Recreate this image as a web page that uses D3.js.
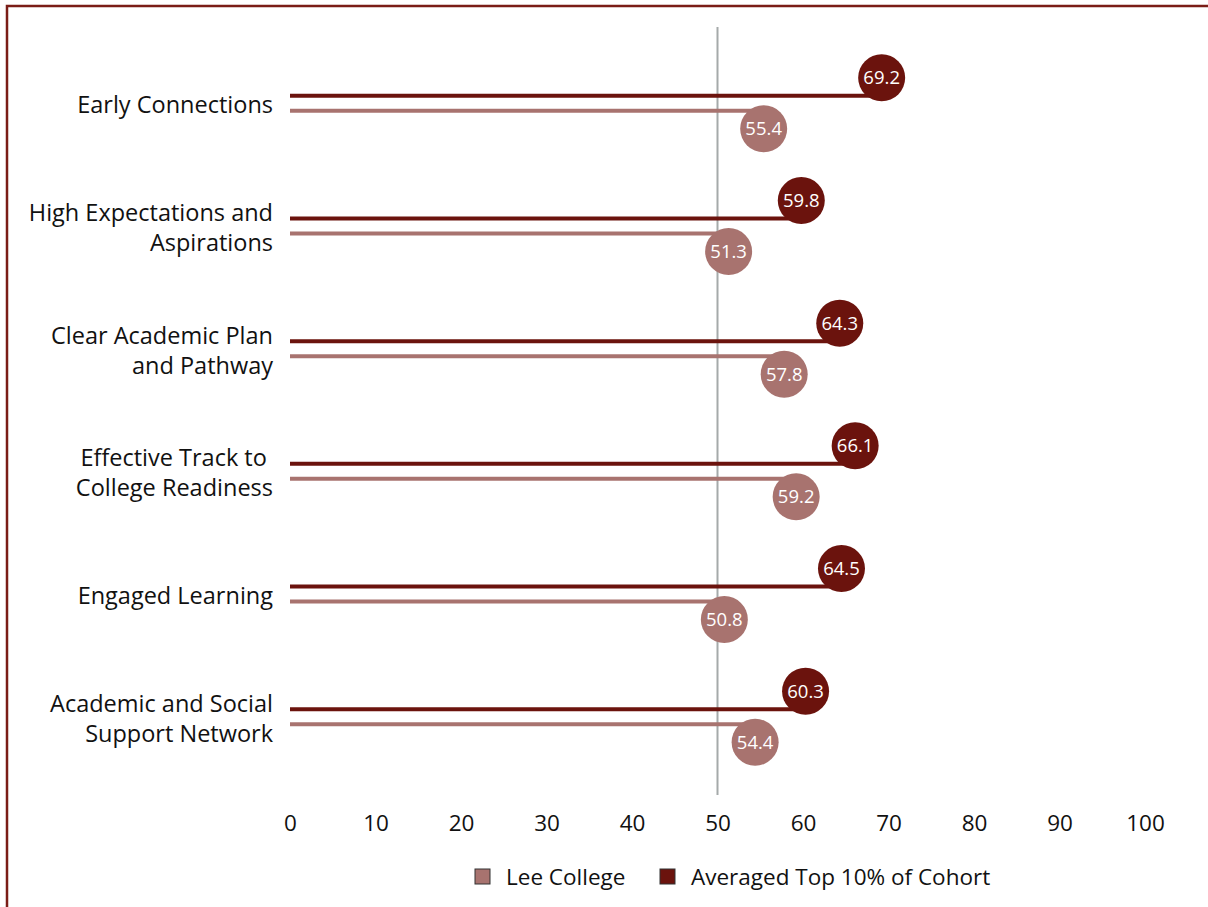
<!DOCTYPE html>
<html>
<head>
<meta charset="utf-8">
<script src="https://d3js.org/d3.v7.min.js"></script>
<style>
  body { margin: 0; background: #fff; }
  text { font-family: "Open Sans", "Noto Sans", sans-serif; }
</style>
</head>
<body>
<script>
// data
var categories = [
    ["Early Connections"],
    ["High Expectations and", "Aspirations"],
    ["Clear Academic Plan", "and Pathway"],
    ["Effective Track to ", "College Readiness"],
    ["Engaged Learning"],
    ["Academic and Social", "Support Network"]
];
var leeCollege = [55.4, 51.3, 57.8, 59.2, 50.8, 54.4];
var topTen = [69.2, 59.8, 64.3, 66.1, 64.5, 60.3];
var xTicks = [0, 10, 20, 30, 40, 50, 60, 70, 80, 90, 100];
var seriesNames = ["Lee College", "Averaged Top 10% of Cohort"];

var lightCol = "#a8736f", darkCol = "#6b130d";

var W = 1208, H = 907;
var svg = d3.select("body").append("svg").attr("width", W).attr("height", H);

// frame
svg.append("path")
    .attr("d", "M7,907 V6 H1208")
    .attr("fill", "none").attr("stroke", "#7a1d17").attr("stroke-width", 2.5);

var x = d3.scaleLinear().domain([0, 100]).range([290, 1145]);
var y = d3.scaleBand().domain(d3.range(categories.length)).range([42, 778]);

// reference line at 50
svg.append("line")
    .attr("x1", x(50)).attr("x2", x(50))
    .attr("y1", 27).attr("y2", 795)
    .attr("stroke", "#a5aaaa").attr("stroke-width", 2);

var rows = svg.selectAll(".row").data(categories).enter().append("g")
    .attr("class", "row")
    .attr("transform", function(d, i) { return "translate(0," + (y(i) + y.bandwidth() / 2) + ")"; });

// category labels
rows.each(function(d) {
    var g = d3.select(this);
    var t = g.append("text").attr("text-anchor", "end").attr("x", 273)
        .attr("font-size", 23.5).attr("fill", "#111");
    d.forEach(function(line, k) {
        t.append("tspan").attr("x", 273)
            .attr("y", (k - (d.length - 1) / 2) * 30 + 10)
            .text(line);
    });
});

// dark lines and circles
rows.append("line")
    .attr("x1", x(0)).attr("x2", function(d, i) { return x(topTen[i]); })
    .attr("y1", -7.5).attr("y2", -7.5)
    .attr("stroke", darkCol).attr("stroke-width", 4);
rows.append("line")
    .attr("x1", x(0)).attr("x2", function(d, i) { return x(leeCollege[i]); })
    .attr("y1", 7.5).attr("y2", 7.5)
    .attr("stroke", lightCol).attr("stroke-width", 4);

rows.append("circle")
    .attr("cx", function(d, i) { return x(topTen[i]); })
    .attr("cy", -25.5).attr("r", 23.5).attr("fill", darkCol);
rows.append("text")
    .attr("x", function(d, i) { return x(topTen[i]); })
    .attr("y", -25.5).attr("dy", "0.35em")
    .attr("text-anchor", "middle").attr("fill", "#fff").attr("font-size", 18.5)
    .text(function(d, i) { return topTen[i].toFixed(1); });

rows.append("circle")
    .attr("cx", function(d, i) { return x(leeCollege[i]); })
    .attr("cy", 25.5).attr("r", 23.5).attr("fill", lightCol);
rows.append("text")
    .attr("x", function(d, i) { return x(leeCollege[i]); })
    .attr("y", 25.5).attr("dy", "0.35em")
    .attr("text-anchor", "middle").attr("fill", "#fff").attr("font-size", 18.5)
    .text(function(d, i) { return leeCollege[i].toFixed(1); });

// x axis
var ax = svg.append("g").attr("transform", "translate(0,815)")
    .call(d3.axisBottom(x).tickValues(xTicks).tickSize(0).tickPadding(0));
ax.select(".domain").remove();
ax.selectAll("text").attr("font-size", 22.5).attr("fill", "#111")
    .attr("font-family", "\"Open Sans\", \"Noto Sans\", sans-serif");

// legend
var legend = svg.append("g").attr("transform", "translate(475,877)");
var lg = legend.selectAll("g").data(seriesNames).enter().append("g")
    .attr("transform", function(d, i) { return "translate(" + [0, 185][i] + ",0)"; });
lg.append("rect").attr("x", 0).attr("y", -8).attr("width", 15).attr("height", 15)
    .attr("fill", function(d, i) { return i === 0 ? lightCol : darkCol; })
    .attr("stroke", "#333").attr("stroke-width", 1);
lg.append("text").attr("x", 31).attr("y", 0).attr("dy", "0.35em")
    .attr("font-size", 22.5).attr("fill", "#111").text(function(d) { return d; });
</script>
</body>
</html>
